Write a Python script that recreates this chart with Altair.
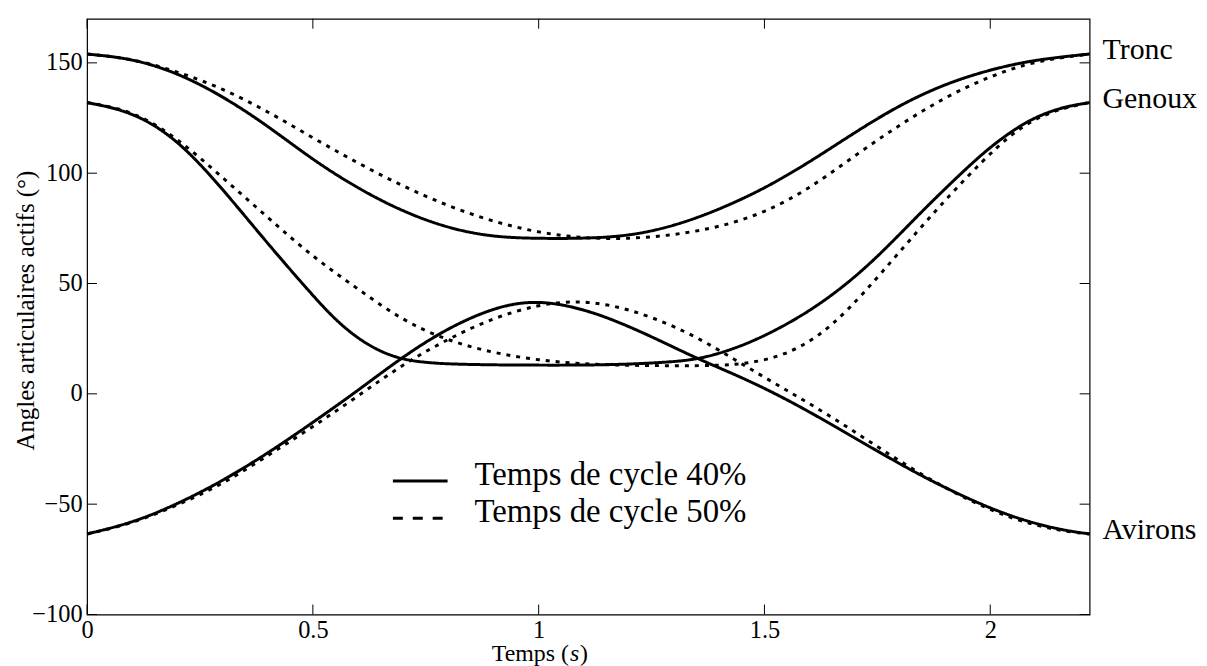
import altair as alt
import pandas as pd

# ---- data (time in s, angle in degrees) ----
T_TRONC_40 = [0, 0.1, 0.2, 0.3, 0.4, 0.5, 0.6, 0.7, 0.8, 0.9, 1.0, 1.1, 1.2, 1.3, 1.4, 1.5, 1.6, 1.7, 1.8, 1.9, 2.0, 2.1, 2.22]
V_TRONC_40 = [154, 152, 145.5, 135, 121.5, 106, 93, 82.5, 75, 71, 70.4, 70.4, 71.5, 76, 83.5, 93, 105, 118.5, 131, 140.5, 147, 151.5, 154]

T_TRONC_50 = [0, 0.1, 0.2, 0.3, 0.4, 0.5, 0.6, 0.7, 0.8, 0.9, 1.0, 1.1, 1.2, 1.3, 1.4, 1.5, 1.6, 1.7, 1.8, 1.9, 2.0, 2.1, 2.22]
V_TRONC_50 = [154, 152, 146, 138.5, 128, 116, 104.5, 94, 85, 78, 73, 70.5, 70.2, 72, 75.5, 82, 93, 108, 122, 134.5, 144, 151, 154]

T_GENOUX_40 = [0, 0.1, 0.2, 0.3, 0.4, 0.5, 0.55, 0.6, 0.65, 0.7, 0.75, 0.8, 0.9, 1.0, 1.1, 1.2, 1.3, 1.357, 1.42, 1.482, 1.55, 1.618, 1.69, 1.76, 1.84, 1.91, 1.985, 2.04, 2.095, 2.16, 2.22]
V_GENOUX_40 = [132, 128, 115.5, 93, 68, 44.5, 33.5, 25, 19, 15.5, 14.2, 13.5, 13.1, 13, 13, 13.4, 14.5, 15.9, 19.5, 24.5, 31.5, 40, 51, 64, 80.9, 95, 109.4, 118, 125.1, 130, 132]

T_GENOUX_50 = [0, 0.1, 0.2, 0.3, 0.4, 0.5, 0.6, 0.7, 0.8, 0.9, 1.0, 1.1, 1.2, 1.3, 1.4, 1.47, 1.544, 1.618, 1.684, 1.76, 1.84, 1.91, 1.985, 2.04, 2.095, 2.16, 2.22]
V_GENOUX_50 = [132, 128.5, 116, 98, 80, 62, 47.5, 33, 24, 18.5, 15.2, 13.5, 12.9, 12.7, 12.8, 13.9, 17.4, 25.6, 37.6, 55, 74, 90, 106, 116.5, 124.4, 129.5, 132]

T_AVIRONS_40 = [0, 0.1, 0.2, 0.3, 0.4, 0.5, 0.6, 0.7, 0.8, 0.9, 0.98, 1.06, 1.15, 1.25, 1.35, 1.45, 1.55, 1.65, 1.75, 1.85, 1.95, 2.05, 2.15, 2.22]
V_AVIRONS_40 = [-63.5, -58.5, -50, -39.5, -27, -13, 1.5, 17, 30, 39, 42.2, 40.5, 35, 26, 16, 7.5, -2.5, -14, -26, -37.5, -47.5, -56, -61.5, -63.5]

T_AVIRONS_50 = [0, 0.1, 0.2, 0.3, 0.4, 0.5, 0.6, 0.7, 0.8, 0.9, 1.0, 1.08, 1.16, 1.25, 1.35, 1.45, 1.55, 1.65, 1.75, 1.85, 1.95, 2.05, 2.15, 2.22]
V_AVIRONS_50 = [-63.5, -58.8, -50.5, -41, -28, -15, -1, 13.5, 25, 34.5, 40.5, 42.2, 40.5, 35, 26, 13.5, 1.5, -10.5, -24, -37, -48, -57, -62, -63.5]

JOINT_LABELS = ["Tronc", "Genoux", "Avirons"]
LABEL_VALUES = [154, 132, -63.5]
CYCLES = ["Temps de cycle 40%", "Temps de cycle 50%"]
X_TICKS = [0, 0.5, 1, 1.5, 2]
Y_TICKS = [-100, -50, 0, 50, 100, 150]
X_MAX = 2.22
Y_MIN, Y_MAX = -100, 170

# ---- layout constants ----
W, H = 1008, 599
FONT = "Liberation Serif"

rows = []
for joint, cyc, ts, vs in [
    ("Tronc", "40", T_TRONC_40, V_TRONC_40),
    ("Tronc", "50", T_TRONC_50, V_TRONC_50),
    ("Genoux", "40", T_GENOUX_40, V_GENOUX_40),
    ("Genoux", "50", T_GENOUX_50, V_GENOUX_50),
    ("Avirons", "40", T_AVIRONS_40, V_AVIRONS_40),
    ("Avirons", "50", T_AVIRONS_50, V_AVIRONS_50),
]:
    for t, v in zip(ts, vs):
        rows.append({"t": t, "v": v, "serie": joint + cyc, "cycle": cyc})
df = pd.DataFrame(rows)

xs = alt.Scale(domain=[0, X_MAX], nice=False, zero=False)
ys = alt.Scale(domain=[Y_MIN, Y_MAX], nice=False, zero=False)

lines = alt.Chart(df).mark_line(color="black", strokeWidth=3, interpolate="basis", strokeCap="butt").encode(
    x=alt.X("t:Q", scale=xs, axis=alt.Axis(values=X_TICKS, format="~g", ticks=False, domain=False, grid=False,
                                           labelFont=FONT, labelFontSize=24.5, labelColor="black",
                                           labelPadding=4, title=None, labelFlush=False)),
    y=alt.Y("v:Q", scale=ys, axis=alt.Axis(values=Y_TICKS, format="d", ticks=False, domain=False, grid=False,
                                           labelFont=FONT, labelFontSize=24.5, labelColor="black",
                                           labelPadding=5, labelFlush=False,
                                           title="Angles articulaires actifs (°)", titleFont=FONT,
                                           titleFontSize=25, titleFontWeight="normal", titleColor="black",
                                           titleAngle=-90, titleX=-54, titleY=293, titleAlign="center",
                                           titleBaseline="alphabetic")),
    detail="serie:N",
    strokeDash=alt.StrokeDash("cycle:N", scale=alt.Scale(domain=["40", "50"], range=[[1, 0], [4, 6]]), legend=None),
)

# inward ticks on all four sides
yt = pd.DataFrame({"v": Y_TICKS})
xt = pd.DataFrame({"t": X_TICKS})
tick_left = alt.Chart(yt).mark_rule(color="black", strokeWidth=1).encode(y=alt.Y("v:Q", scale=ys), x=alt.value(0), x2=alt.value(10))
tick_right = alt.Chart(yt).mark_rule(color="black", strokeWidth=1).encode(y=alt.Y("v:Q", scale=ys), x=alt.value(W - 10), x2=alt.value(W))
tick_bottom = alt.Chart(xt).mark_rule(color="black", strokeWidth=1).encode(x=alt.X("t:Q", scale=xs), y=alt.value(H - 10), y2=alt.value(H))
tick_top = alt.Chart(xt).mark_rule(color="black", strokeWidth=1).encode(x=alt.X("t:Q", scale=xs), y=alt.value(0), y2=alt.value(10))

# joint labels on the right
lab = pd.DataFrame({"t": [X_MAX] * 3, "v": LABEL_VALUES, "txt": JOINT_LABELS})
labels = alt.Chart(lab).mark_text(font=FONT, fontSize=30, align="left", baseline="alphabetic", dx=13, dy=5,
                                  color="black", clip=False).encode(
    x=alt.X("t:Q", scale=xs), y=alt.Y("v:Q", scale=ys), text="txt:N")

# manual legend
one = pd.DataFrame({"k": [0]})
leg_solid = alt.Chart(one).mark_rule(color="black", strokeWidth=3).encode(
    x=alt.value(307.5), x2=alt.value(362.5), y=alt.value(464.7))
leg_dash = alt.Chart(one).mark_rule(color="black", strokeWidth=3, strokeDash=[10, 10]).encode(
    x=alt.value(307.5), x2=alt.value(357.5), y=alt.value(502.3))
leg_text1 = alt.Chart(one).mark_text(
    font=FONT, fontSize=33, align="left", baseline="alphabetic", color="black", text=CYCLES[0]).encode(
    x=alt.value(389.5), y=alt.value(469))
leg_text2 = alt.Chart(one).mark_text(
    font=FONT, fontSize=33, align="left", baseline="alphabetic", color="black", text=CYCLES[1]).encode(
    x=alt.value(389.5), y=alt.value(506.5))

# x axis title with italic s
XT = 453.5
TY = H + 46.5
xtitle1 = alt.Chart(one).mark_text(
    font=FONT, fontSize=24, align="right", baseline="alphabetic", color="black", text="Temps (").encode(
    x=alt.value(XT + 31), y=alt.value(TY))
xtitle2 = alt.Chart(one).mark_text(
    font=FONT, fontSize=24, fontStyle="italic", align="left", baseline="alphabetic", color="black", text="s").encode(
    x=alt.value(XT + 32), y=alt.value(TY))
xtitle3 = alt.Chart(one).mark_text(
    font=FONT, fontSize=24, align="left", baseline="alphabetic", color="black", text=")").encode(
    x=alt.value(XT + 42), y=alt.value(TY))

chart = alt.layer(
    lines, tick_left, tick_right, tick_bottom, tick_top, labels,
    leg_solid, leg_dash, leg_text1, leg_text2, xtitle1, xtitle2, xtitle3,
).properties(
    width=W, height=H,
    autosize=alt.AutoSizeParams(type="none"),
    padding={"left": 79.5, "top": 9, "right": 110, "bottom": 50},
    background="white",
).configure_view(stroke="black", strokeWidth=1.2)

chart.save("out.html", embed_options={"renderer": "svg", "actions": False})
